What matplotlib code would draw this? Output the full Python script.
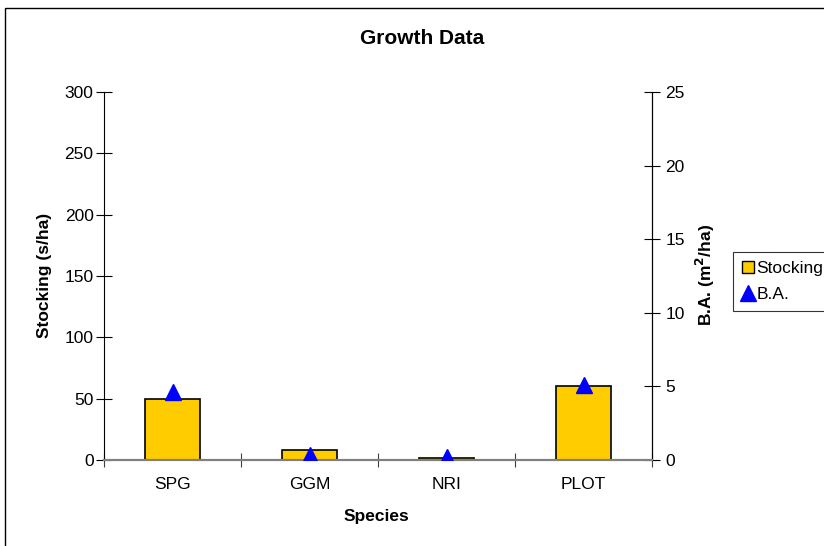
import matplotlib.pyplot as plt
from matplotlib.patches import Rectangle
from matplotlib.lines import Line2D

species = ['SPG', 'GGM', 'NRI', 'PLOT']
stocking = [50, 8, 2, 60]
basal_area = [4.6, 0.35, 0.2, 5.1]

plt.rcParams['font.family'] = ['Liberation Sans', 'DejaVu Sans']
W, H = 824, 546
FS = 12.5

fig = plt.figure(figsize=(W / 100, H / 100), dpi=100)
ax = fig.add_axes([104 / W, 1 - 460 / H, 548 / W, 368 / H])
ax2 = ax.twinx()

x = list(range(len(species)))
ax.bar(x, stocking, width=0.4, color='#ffcc00', edgecolor='black', linewidth=1.2, zorder=2)
ax2.plot(x, basal_area, linestyle='none', marker='^', markersize=12, color='#0000ff', zorder=3)

ax.set_xlim(-0.5, len(species) - 0.5)
ax.set_ylim(0, 300)
ax.set_yticks(range(0, 301, 50))
ax2.set_ylim(0, 25)
ax2.set_yticks(range(0, 26, 5))

# category boundaries carry the ticks, names sit in between
ax.set_xticks([i + 0.5 for i in range(-1, len(species))])
ax.set_xticklabels([])
ax.set_xticks(x, minor=True)
ax.set_xticklabels(species, minor=True)
ax.tick_params(axis='x', which='major', direction='inout', length=10, width=0.8, color='#404040')
ax.tick_params(axis='x', which='minor', length=0, pad=12, labelsize=FS)
ax.tick_params(axis='y', direction='inout', length=11, width=0.8, labelsize=FS, pad=2)
ax2.tick_params(axis='y', direction='inout', length=11, width=0.8, labelsize=FS, pad=4)

for a in (ax, ax2):
    a.spines['top'].set_visible(False)
    a.spines['bottom'].set_color('#808080')
    a.spines['bottom'].set_linewidth(1.5)
ax2.spines['left'].set_visible(False)

fig.text(376 / W, 1 - 517 / H, 'Species', ha='center', va='center', fontsize=FS, fontweight='bold')
fig.text(45 / W, 1 - 275 / H, 'Stocking (s/ha)', ha='center', va='center', rotation=90,
         fontsize=FS, fontweight='bold')
fig.text(705 / W, 1 - 275 / H, 'B.A. (m$^\\mathbf{2}$/ha)', ha='center', va='center', rotation=90,
         fontsize=FS, fontweight='bold')
fig.text(422 / W, 1 - 38 / H, 'Growth Data', ha='center', va='center', fontsize=15, fontweight='bold')

handles = [
    Line2D([], [], linestyle='none', marker='s', markersize=9, markerfacecolor='#ffcc00', markeredgecolor='black'),
    Line2D([], [], linestyle='none', marker='^', markersize=11, color='#0000ff'),
]
leg = fig.legend(handles, ['Stocking', 'B.A.'], loc='upper left', bbox_to_anchor=(733 / W, 1 - 252 / H),
                 fontsize=FS, frameon=True, fancybox=False, handlelength=0.7, handletextpad=0.15,
                 borderpad=0.5, labelspacing=0.65, borderaxespad=0)
leg.get_frame().set_edgecolor('black')
leg.get_frame().set_linewidth(0.8)

fig.patches.append(Rectangle((5 / W, -0.1), 1.2, 1.1 - 8 / H, transform=fig.transFigure,
                             fill=False, edgecolor='black', linewidth=1, clip_on=False))

fig.savefig('out.png', dpi=100)
